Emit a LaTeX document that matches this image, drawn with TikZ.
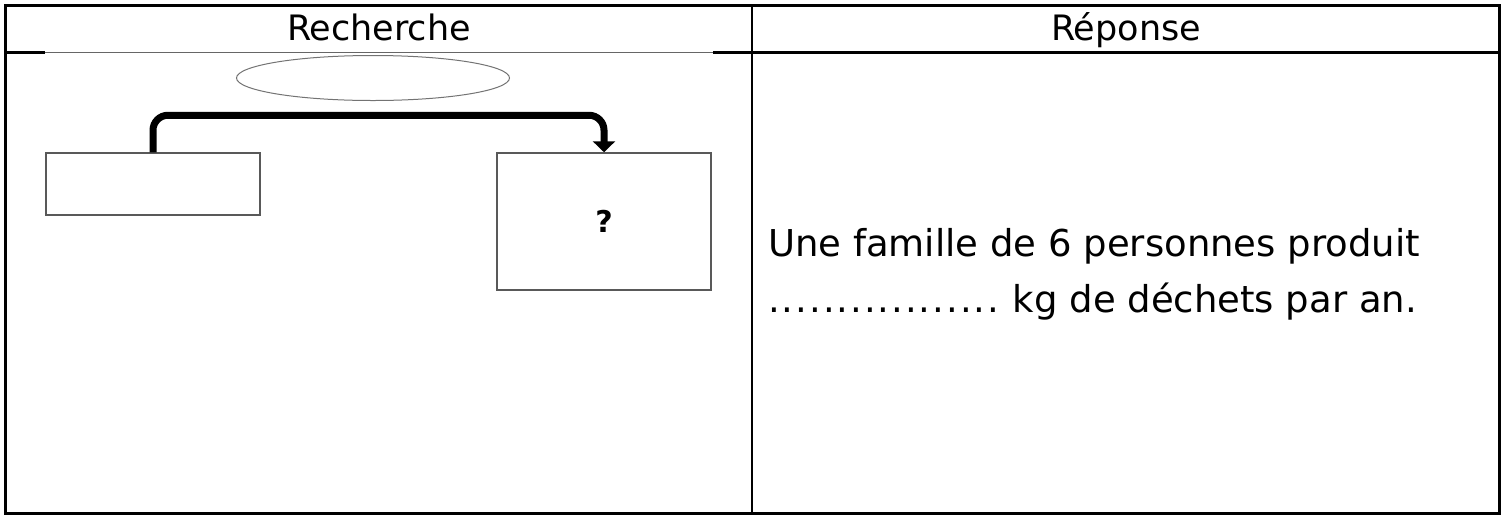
\documentclass[tikz,border=0pt]{standalone}
\usepackage{fontspec}
\setmainfont{DejaVu Sans}
\usetikzlibrary{shapes.geometric,arrows.meta,positioning}
\tikzstyle{frame} = [line width=3pt]
\tikzstyle{box} = [rectangle, draw=black!65, line width=1.5pt, minimum width=214pt, minimum height=62pt, inner sep=0pt]
\tikzstyle{bubble} = [ellipse, draw=black!55, line width=1pt, minimum width=273pt, minimum height=45pt]
\tikzstyle{head} = [anchor=base, font=\fontsize{35}{42}\selectfont]
\tikzstyle{answer} = [anchor=base west, inner sep=0pt, font=\fontsize{37}{44}\selectfont]
\tikzstyle{flow} = [line width=7pt, rounded corners=15pt, -{Triangle[width=22pt,length=11pt]}]
\newcommand{\answerdots}{\foreach \i in {1,...,17}{\makebox[13.7pt][l]{.}}}

\begin{document}
\begin{tikzpicture}[x=1pt, y=-1pt]
    \useasboundingbox (0,0) rectangle (1503,515);
    % table
    \draw[frame] (5.5,5.5) rectangle (1499.5,513);
    \draw[line width=2.5pt] (752,5.5) -- (752,513);
    \draw[frame] (5.5,52) -- (45,52);
    \draw[draw=black!60, line width=1pt] (45,52) -- (713,52);
    \draw[frame] (713,52) -- (1499.5,52);
    \node[head] (hsearch) at (379,40) {Recherche};
    \node[head] (hanswer) at (1126,40) {Réponse};

    % schema
    \node[bubble] (op) at (373,78) {};
    \node[box] (lbox) at (153,184) {};
    \node[box, minimum height=137pt, font=\bfseries\fontsize{30}{34}\selectfont] (rbox) at (604,221.5) {?};
    \draw[flow] (lbox.north) -- ++(0,-37) -| (rbox.north);

    % answer
    \node[answer] (line1) at (768,256) {Une famille de 6 personnes produit};
    \node[answer] (line2) at (768,312) {\answerdots\ kg de déchets par an.};
\end{tikzpicture}
\end{document}
